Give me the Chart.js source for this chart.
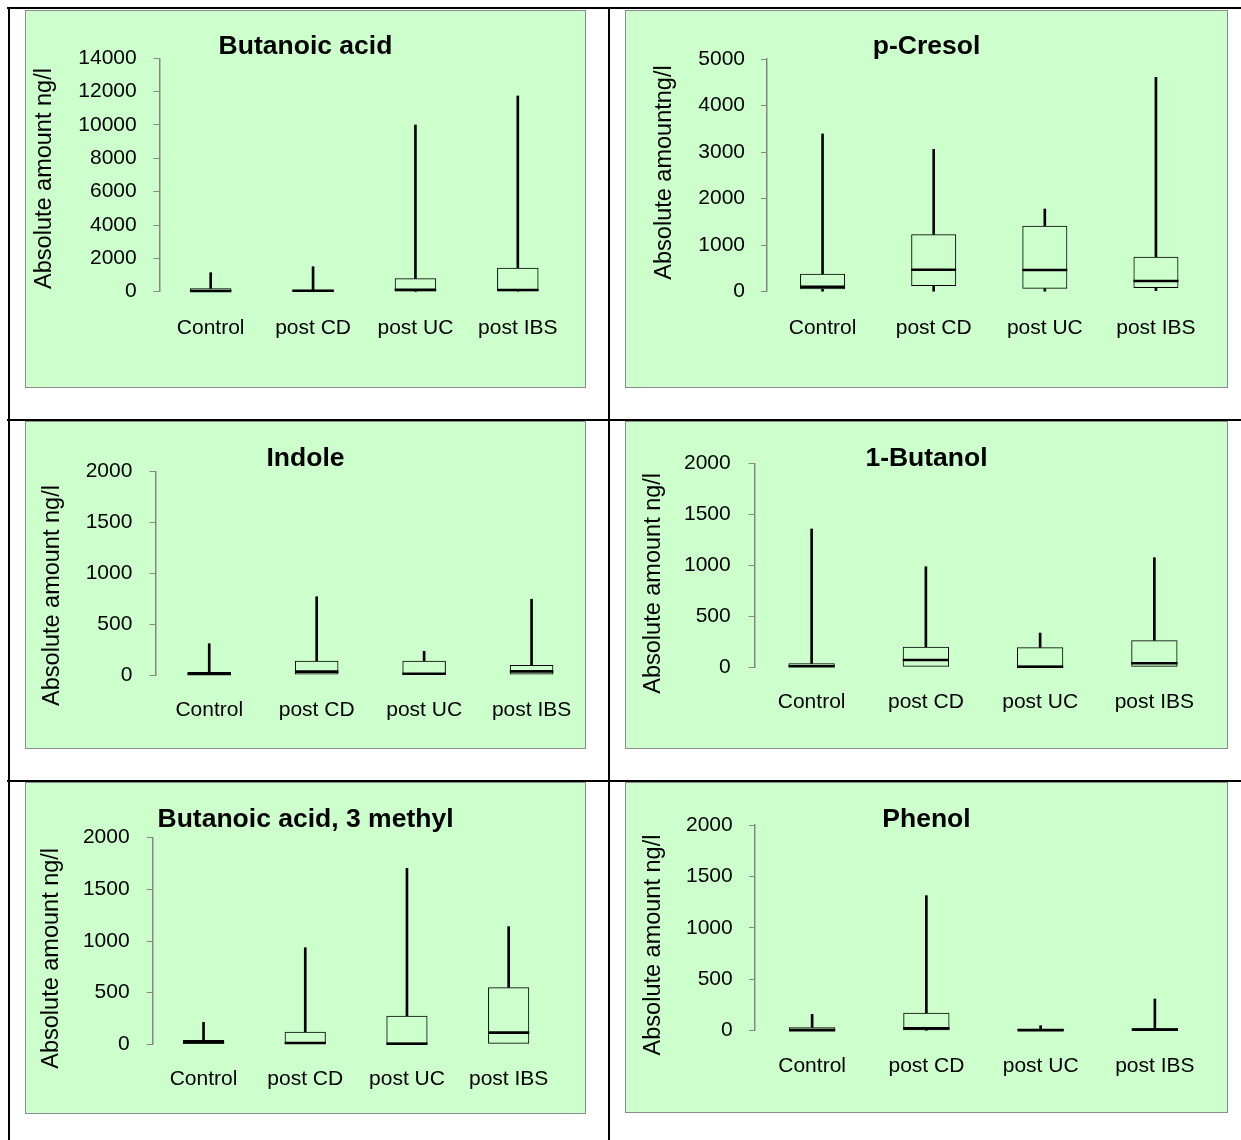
<!DOCTYPE html>
<html>
<head>
<meta charset="utf-8">
<title>Volatile compounds – absolute amounts by group</title>
<script src="https://cdn.jsdelivr.net/npm/chart.js@4.4.1/dist/chart.umd.min.js"></script>
<style>
  html, body { margin: 0; padding: 0; background: #ffffff; }
  #page { position: relative; width: 1241px; height: 1140px; overflow: hidden; background: #ffffff; }
  .rule { position: absolute; background: #000000; }
  .panel { position: absolute; box-sizing: border-box; background: #ccffcc; border: 1px solid #8c8c8c; }
  canvas.plot { position: absolute; }
</style>
</head>
<body>
<div id="page"></div>
<script>
// ---- data -------------------------------------------------------------
const groups = ['Control', 'post CD', 'post UC', 'post IBS'];

// Butanoic acid (ng/l)
const butanoicMin    = [0, 0, 0, 0];
const butanoicQ1     = [0, 10, 20, 30];
const butanoicMedian = [40, 60, 110, 100];
const butanoicQ3     = [200, 120, 800, 1440];
const butanoicMax    = [1140, 1500, 10000, 11740];
const butanoicTicks  = [0, 2000, 4000, 6000, 8000, 10000, 12000, 14000];

// p-Cresol (ng/l)
const cresolMin    = [0, 0, 0, 21];
const cresolQ1     = [52, 122, 64, 80];
const cresolMedian = [107, 473, 466, 230];
const cresolQ3     = [387, 1233, 1418, 752];
const cresolMax    = [3389, 3060, 1777, 4607];
const cresolTicks  = [0, 1000, 2000, 3000, 4000, 5000];

// Indole (ng/l)
const indoleMin    = [0, 0, 0, 0];
const indoleQ1     = [0, 0, 0, 0];
const indoleMedian = [10, 33, 13, 36];
const indoleQ3     = [30, 141, 141, 98];
const indoleMax    = [308, 770, 233, 745];
const indoleTicks  = [0, 500, 1000, 1500, 2000];

// 1-Butanol (ng/l)
const butanolMin    = [0, 0, 0, 0];
const butanolQ1     = [0, 0, 0, 0];
const butanolMedian = [10, 72, 6, 39];
const butanolQ3     = [39, 202, 196, 265];
const butanolMax    = [1356, 986, 336, 1075];
const butanolTicks  = [0, 500, 1000, 1500, 2000];

// Butanoic acid, 3 methyl (ng/l)
const methylMin    = [0, 0, 0, 0];
const methylQ1     = [0, 0, 0, 0];
const methylMedian = [19, 13, 6, 113];
const methylQ3     = [42, 122, 277, 552];
const methylMax    = [213, 935, 1704, 1139];
const methylTicks  = [0, 500, 1000, 1500, 2000];

// Phenol (ng/l)
const phenolMin    = [0, 0, 0, 0];
const phenolQ1     = [0, 4, 0, 0];
const phenolMedian = [6, 23, 6, 10];
const phenolQ3     = [33, 175, 16, 23];
const phenolMax    = [159, 1313, 49, 308];
const phenolTicks  = [0, 500, 1000, 1500, 2000];

// ---- page layout --------------------------------------------------------
const FONT = '"Liberation Sans", Arial, Helvetica, sans-serif';
const BOX_FRACTION = 0.405;
const TICK_SIZE = 21;
const TITLE_SIZE = 26.5;
const CAPTION_SIZE = 23.5;

// labelDrop: distance from the zero line down to the middle of the group labels
const panels = [
  { title: 'Butanoic acid', caption: 'Absolute amount ng/l',
    stats: [butanoicMin, butanoicQ1, butanoicMedian, butanoicQ3, butanoicMax], ticks: butanoicTicks,
    box: { left: 25, top: 10, width: 561, height: 378 },
    side: 17, yWidth: 117.5, xHeight: 96.3, yPad: 16.8, labelDrop: 36.3,
    titlePad: { top: 23.25, bottom: -1.45 }, captionAt: { x: 20, y: 168.5 } },
  { title: 'p-Cresol', caption: 'Absolute amountng/l',
    stats: [cresolMin, cresolQ1, cresolMedian, cresolQ3, cresolMax], ticks: cresolTicks,
    box: { left: 625, top: 10, width: 603, height: 378 },
    side: 16.5, yWidth: 125.5, xHeight: 96.3, yPad: 16, labelDrop: 36.6,
    titlePad: { top: 23.25, bottom: -0.75 }, captionAt: { x: 39.7, y: 162.5 } },
  { title: 'Indole', caption: 'Absolute amount ng/l',
    stats: [indoleMin, indoleQ1, indoleMedian, indoleQ3, indoleMax], ticks: indoleTicks,
    box: { left: 25, top: 421, width: 561, height: 328 },
    side: 0.7, yWidth: 129.8, xHeight: 74, yPad: 17.1, labelDrop: 35,
    titlePad: { top: 23.95, bottom: 0.25 }, captionAt: { x: 27.4, y: 174.5 } },
  { title: '1-Butanol', caption: 'Absolute amount ng/l',
    stats: [butanolMin, butanolQ1, butanolMedian, butanolQ3, butanolMax], ticks: butanolTicks,
    box: { left: 625, top: 421, width: 603, height: 328 },
    side: 16.5, yWidth: 113, xHeight: 81.7, yPad: 17.8, labelDrop: 35,
    titlePad: { top: 24.55, bottom: -8.75 }, captionAt: { x: 28.3, y: 162.3 } },
  { title: 'Butanoic acid, 3 methyl', caption: 'Absolute amount ng/l',
    stats: [methylMin, methylQ1, methylMedian, methylQ3, methylMax], ticks: methylTicks,
    box: { left: 25, top: 782, width: 561, height: 332 },
    side: 26.5, yWidth: 101.2, xHeight: 69.7, yPad: 17.1, labelDrop: 34.7,
    titlePad: { top: 24.55, bottom: 4.65 }, captionAt: { x: 26.4, y: 176.3 } },
  { title: 'Phenol', caption: 'Absolute amount ng/l',
    stats: [phenolMin, phenolQ1, phenolMedian, phenolQ3, phenolMax], ticks: phenolTicks,
    box: { left: 625, top: 782, width: 603, height: 331 },
    side: 16, yWidth: 114, xHeight: 82.3, yPad: 16.3, labelDrop: 36,
    titlePad: { top: 24.55, bottom: -8.05 }, captionAt: { x: 28.3, y: 163 } }
];

// table rules framing the six panels
const rules = [
  { left: 7, top: 7, width: 1234, height: 2 },
  { left: 8, top: 7, width: 2, height: 1133 },
  { left: 608, top: 7, width: 2, height: 1133 },
  { left: 7, top: 419, width: 1234, height: 2 },
  { left: 7, top: 780, width: 1234, height: 2 }
];

// ---- drawing ----------------------------------------------------------------
// rotated y-axis caption, placed inside the panel
const axisCaption = {
  id: 'axisCaption',
  afterDraw(chart, args, opts) {
    if (!opts || !opts.text) return;
    const ctx = chart.ctx;
    ctx.save();
    ctx.translate(opts.x, opts.y);
    ctx.rotate(-Math.PI / 2);
    ctx.font = opts.size + 'px ' + FONT;
    ctx.fillStyle = '#000000';
    ctx.textAlign = 'center';
    ctx.textBaseline = 'middle';
    ctx.fillText(opts.text, 0, 0);
    ctx.restore();
  }
};

Chart.defaults.font.family = FONT;

const page = document.getElementById('page');
rules.forEach(r => {
  const d = document.createElement('div');
  d.className = 'rule';
  Object.assign(d.style, { left: r.left + 'px', top: r.top + 'px', width: r.width + 'px', height: r.height + 'px' });
  page.appendChild(d);
});

function halfBoxWidth(ctx) {
  const xs = ctx.chart.scales.x;
  return xs.width / groups.length * BOX_FRACTION / 2;
}

panels.forEach(p => {
  const [mins, q1s, medians, q3s, maxs] = p.stats;

  const bg = document.createElement('div');
  bg.className = 'panel';
  Object.assign(bg.style, { left: p.box.left + 'px', top: p.box.top + 'px', width: p.box.width + 'px', height: p.box.height + 'px' });
  page.appendChild(bg);

  const canvas = document.createElement('canvas');
  canvas.className = 'plot';
  canvas.width = p.box.width;
  canvas.height = p.box.height;
  Object.assign(canvas.style, { left: p.box.left + 'px', top: p.box.top + 'px', width: p.box.width + 'px', height: p.box.height + 'px' });
  page.appendChild(canvas);

  new Chart(canvas, {
    type: 'bar',
    data: {
      labels: groups,
      datasets: [
        {
          type: 'line', label: 'Median', data: medians, order: 0,
          showLine: false, pointStyle: 'line', pointRadius: halfBoxWidth,
          pointBorderWidth: 2.6, pointBorderColor: '#000000', pointBackgroundColor: '#000000',
          clip: false
        },
        {
          type: 'bar', label: 'Quartiles', order: 1,
          data: groups.map((g, i) => [q1s[i], q3s[i]]),
          backgroundColor: 'rgba(0,0,0,0)', borderColor: '#000000', borderWidth: 1,
          borderSkipped: false, grouped: false,
          barPercentage: BOX_FRACTION, categoryPercentage: 1, clip: false
        },
        {
          type: 'bar', label: 'Upper whisker', order: 2,
          data: groups.map((g, i) => [q3s[i], maxs[i]]),
          backgroundColor: '#000000', borderWidth: 0, barThickness: 2, grouped: false, clip: false
        },
        {
          type: 'bar', label: 'Lower whisker', order: 2,
          data: groups.map((g, i) => (mins[i] < q1s[i] ? [mins[i], q1s[i]] : null)),
          backgroundColor: '#000000', borderWidth: 0, barThickness: 2, grouped: false, clip: false
        }
      ]
    },
    options: {
      responsive: false,
      maintainAspectRatio: false,
      devicePixelRatio: 1,
      animation: false,
      events: [],
      layout: { padding: { left: p.side, right: p.side, top: 0, bottom: 0 } },
      scales: {
        x: {
          grid: { display: false, drawTicks: false },
          border: { display: false },
          ticks: {
            font: { size: TICK_SIZE, lineHeight: (2 * p.labelDrop) + 'px' },
            color: '#000000', padding: 0, maxRotation: 0, autoSkip: false
          },
          afterFit: s => { s.height = p.xHeight; }
        },
        y: {
          min: 0,
          max: p.ticks[p.ticks.length - 1],
          afterBuildTicks: s => { s.ticks = p.ticks.map(v => ({ value: v })); },
          afterFit: s => { s.width = p.yWidth; },
          grid: { drawOnChartArea: false, drawTicks: true, tickLength: 6, color: '#868686', tickColor: '#868686', lineWidth: 1 },
          border: { display: true, color: '#868686', width: 1.5 },
          ticks: { font: { size: TICK_SIZE }, color: '#000000', padding: p.yPad, callback: v => String(v) }
        }
      },
      plugins: {
        legend: { display: false },
        tooltip: { enabled: false },
        title: {
          display: true, text: p.title, color: '#000000',
          font: { size: TITLE_SIZE, weight: 'bold', lineHeight: 1 },
          padding: p.titlePad
        },
        axisCaption: { text: p.caption, size: CAPTION_SIZE, x: p.captionAt.x, y: p.captionAt.y }
      }
    },
    plugins: [axisCaption]
  });
});
</script>
</body>
</html>
